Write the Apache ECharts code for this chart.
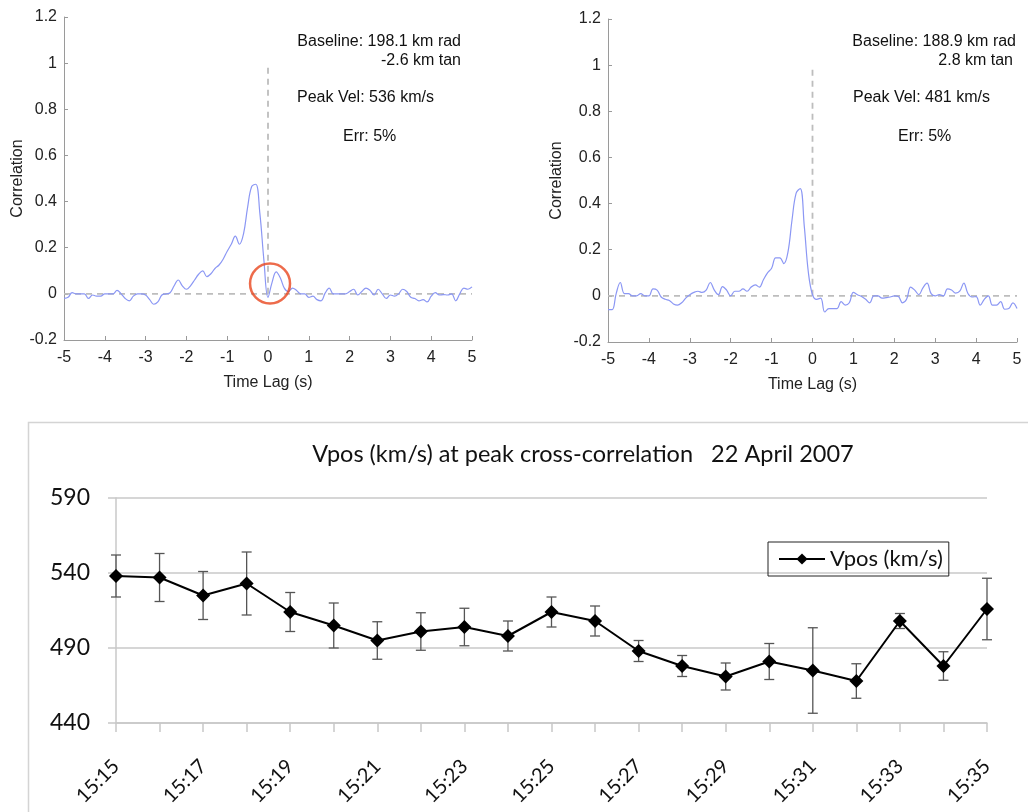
<!DOCTYPE html>
<html>
<head>
<meta charset="utf-8">
<script src="https://cdn.jsdelivr.net/npm/echarts@6/dist/echarts.min.js"></script>
<style>
  html, body { margin: 0; padding: 0; background: #fff; }
  #chart { width: 1028px; height: 812px; }
</style>
</head>
<body>
<div id="chart"></div>
<script>
// lag axis (s), 0.1 s steps from -5 to 5
const lags = [];
for (let i = -50; i <= 50; i++) lags.push(i / 10);

// cross-correlation, left panel
const corrLeft = [
  -0.02, -0.015, 0.005, 0, 0, 0, -0.02, -0.005, -0.01, -0.01,
  0, 0, 0, 0.015, 0, -0.02, -0.03, -0.01, 0, 0,
  -0.005, -0.025, -0.045, -0.035, -0.005, 0, 0.005, 0.035, 0.06, 0.035,
  0.02, 0.035, 0.06, 0.085, 0.1, 0.075, 0.087, 0.11, 0.125, 0.15,
  0.185, 0.215, 0.25, 0.215, 0.26, 0.375, 0.465, 0.475, 0.35, 0.145,
  -0.015, 0.05, 0.095, 0.07, 0.025, 0.01, 0.025, 0.015, 0, 0,
  -0.015, -0.01, -0.025, -0.03, 0.003, 0.025, 0, 0, 0, 0,
  0.01, 0.02, -0.005, 0.01, 0.025, 0.015, -0.005, 0.02, 0, -0.02,
  -0.005, -0.01, 0, 0.02, 0.01, -0.015, -0.02, -0.03, -0.025, -0.035,
  -0.01, 0.005, -0.005, -0.003, -0.005, 0, -0.03, 0, 0.025, 0.02,
  0.03
];

// cross-correlation, right panel
const corrRight = [
  -0.06, -0.06, 0.01, 0.058, 0.01, 0.01, 0, 0, 0.01, 0,
  0, 0.03, 0.025, -0.005, -0.015, -0.02, -0.035, -0.04, -0.03, -0.01,
  0.005, 0.015, 0.02, 0.015, 0.025, 0.058, 0.025, 0.005, 0.04, 0.025,
  0, 0.02, 0.02, 0.03, 0.02, 0.038, 0.048, 0.038, 0.07, 0.1,
  0.12, 0.165, 0.165, 0.14, 0.19, 0.33, 0.445, 0.465, 0.3, 0.1,
  0.005, -0.015, -0.01, -0.07, -0.055, -0.055, -0.055, -0.025, -0.04, -0.03,
  0.015, 0.005, -0.003, -0.015, -0.03, 0, 0, -0.01, -0.008, -0.005,
  0, -0.003, -0.03, -0.015, 0.038, 0.025, 0.005, 0.035, 0.055, 0.01,
  0, 0.005, 0, 0.03, 0.025, 0.012, 0.02, 0.055, 0.01, -0.005,
  -0.003, -0.04, -0.015, 0, -0.04, -0.04, -0.025, -0.058, -0.055, -0.03,
  -0.055
];

// bottom panel: velocity at peak cross-correlation
const times = ['15:15', '15:16', '15:17', '15:18', '15:19', '15:20', '15:21',
  '15:22', '15:23', '15:24', '15:25', '15:26', '15:27', '15:28', '15:29',
  '15:30', '15:31', '15:32', '15:33', '15:34', '15:35'];
const vpos = [538, 537, 525, 533, 514, 505, 495, 501, 504, 498, 514,
  508, 488, 478, 471, 481, 475, 468, 508, 478, 516];
const vposErr = [14, 16, 16, 21, 13, 15, 12.5, 12.5, 12.5, 10, 10,
  10, 7, 7, 9, 12, 28.5, 11.5, 5, 9.5, 20.5];

const corrTicks = { min: -0.2, max: 1.2, interval: 0.2 };
const lagTicks = { min: -5, max: 5, interval: 1 };
const vTicks = { min: 440, max: 590, interval: 50 };

const smallFont = 'Liberation Sans, Arial, sans-serif';
const bigFont = 'Lato, Open Sans, sans-serif';
const curveColor = '#8b97f4';
const refColor = '#bdbdbd';

const pair = (xs, ys) => xs.map((x, i) => [x, ys[i]]);

function lagAxis(gridIndex) {
  return {
    type: 'value', gridIndex: gridIndex,
    min: lagTicks.min, max: lagTicks.max, interval: lagTicks.interval,
    name: 'Time Lag (s)', nameLocation: 'middle', nameGap: 35,
    nameTextStyle: { fontFamily: smallFont, fontSize: 16, color: '#222' },
    axisLine: { onZero: false, lineStyle: { color: '#9a9a9a' } },
    axisTick: { inside: true, length: 4, lineStyle: { color: '#9a9a9a' } },
    axisLabel: { fontFamily: smallFont, fontSize: 16, color: '#222', margin: 10 },
    splitLine: { show: false }
  };
}

function corrAxis(gridIndex, gap) {
  return {
    type: 'value', gridIndex: gridIndex,
    min: corrTicks.min, max: corrTicks.max, interval: corrTicks.interval,
    name: 'Correlation', nameLocation: 'middle', nameGap: gap,
    nameTextStyle: { fontFamily: smallFont, fontSize: 16, color: '#222' },
    axisLine: { show: true, onZero: false, lineStyle: { color: '#9a9a9a' } },
    axisTick: { show: true, inside: true, length: 4, lineStyle: { color: '#9a9a9a' } },
    axisLabel: { fontFamily: smallFont, fontSize: 16, color: '#222', margin: 7 },
    splitLine: { show: false }
  };
}

function refLines(idx) {
  const dashed = { color: refColor, width: 1.8, type: [6, 5] };
  return [
    { type: 'line', xAxisIndex: idx, yAxisIndex: idx, data: [[-5, 0], [5, 0]],
      symbol: 'none', lineStyle: dashed, silent: true, z: 1 },
    { type: 'line', xAxisIndex: idx, yAxisIndex: idx, data: [[0, 0], [0, 1]],
      symbol: 'none', lineStyle: dashed, silent: true, z: 1 }
  ];
}

function txt(x, y, text, align) {
  return { type: 'text', x: x, y: y,
    style: { text: text, fontFamily: smallFont, fontSize: 16, fill: '#111',
      textAlign: align || 'left', textVerticalAlign: 'middle' } };
}

function renderErr(params, api) {
  const i = api.value(0);
  const lo = api.coord([i, api.value(1)]);
  const hi = api.coord([i, api.value(2)]);
  const w = 5;
  const style = { stroke: '#555', lineWidth: 1.3 };
  return {
    type: 'group',
    children: [
      { type: 'line', shape: { x1: lo[0], y1: lo[1], x2: hi[0], y2: hi[1] }, style: style },
      { type: 'line', shape: { x1: lo[0] - w, y1: lo[1], x2: lo[0] + w, y2: lo[1] }, style: style },
      { type: 'line', shape: { x1: hi[0] - w, y1: hi[1], x2: hi[0] + w, y2: hi[1] }, style: style }
    ]
  };
}

const chart = echarts.init(document.getElementById('chart'));

const option = {
  backgroundColor: '#fff',
  animation: false,
  title: {
    text: 'Vpos (km/s) at peak cross-correlation   22 April 2007',
    left: 578, top: 437, textAlign: 'center',
    textStyle: { fontFamily: bigFont, fontSize: 23.5, fontWeight: 'normal', color: '#111' }
  },
  legend: {
    data: ['Vpos (km/s)'],
    left: 768, top: 542,
    padding: [6, 6, 6, 10],
    borderColor: '#222', borderWidth: 1,
    itemWidth: 46, itemHeight: 14, itemGap: 4,
    textStyle: { fontFamily: bigFont, fontSize: 22, color: '#111' }
  },
  grid: [
    { left: 64, top: 17, width: 408, height: 323 },
    { left: 608, top: 19, width: 409, height: 323 },
    { left: 116, top: 498, width: 871, height: 225 }
  ],
  xAxis: [
    lagAxis(0),
    lagAxis(1),
    {
      type: 'category', gridIndex: 2, data: times, boundaryGap: false,
      axisLine: { lineStyle: { color: '#c8c8c8', width: 1.5 } },
      axisTick: { show: true, interval: 0, length: 9, lineStyle: { color: '#c8c8c8', width: 1.5 } },
      axisLabel: { interval: 1, rotate: 45, margin: 40, fontFamily: bigFont, fontSize: 20, color: '#111' }
    }
  ],
  yAxis: [
    corrAxis(0, 37),
    corrAxis(1, 43),
    {
      type: 'value', gridIndex: 2,
      min: vTicks.min, max: vTicks.max, interval: vTicks.interval,
      axisLine: { show: true, lineStyle: { color: '#c8c8c8', width: 1.5 } },
      axisTick: { show: true, length: 8, lineStyle: { color: '#c8c8c8', width: 1.5 } },
      axisLabel: { fontFamily: bigFont, fontSize: 23, color: '#111', margin: 26 },
      splitLine: { lineStyle: { color: '#c8c8c8', width: 1.5 } }
    }
  ],
  graphic: [
    txt(461, 42, 'Baseline: 198.1 km rad', 'right'),
    txt(461, 61, '-2.6 km tan', 'right'),
    txt(297, 98, 'Peak Vel: 536 km/s'),
    txt(343, 137, 'Err: 5%'),
    txt(1016, 42, 'Baseline: 188.9 km rad', 'right'),
    txt(1013, 61, '2.8 km tan', 'right'),
    txt(853, 98, 'Peak Vel: 481 km/s'),
    txt(898, 137, 'Err: 5%'),
    { type: 'rect', left: 26, top: 420, z: -1,
      shape: { width: 1020, height: 420 },
      style: { fill: 'none', stroke: '#d4d4d4', lineWidth: 1.5 } }
  ],
  series: [
    ...refLines(0),
    ...refLines(1),
    { type: 'line', xAxisIndex: 0, yAxisIndex: 0, data: pair(lags, corrLeft),
      symbol: 'none', smooth: 0.4, lineStyle: { color: curveColor, width: 1.2 }, z: 3 },
    { type: 'line', xAxisIndex: 1, yAxisIndex: 1, data: pair(lags, corrRight),
      symbol: 'none', smooth: 0.4, lineStyle: { color: curveColor, width: 1.2 }, z: 3 },
    // red circle around the secondary dip near zero lag
    { type: 'scatter', xAxisIndex: 0, yAxisIndex: 0, data: [[0.05, 0.045]],
      symbol: 'circle', symbolSize: 40, silent: true, z: 4,
      itemStyle: { color: 'rgba(0,0,0,0)', borderColor: '#e8461e', borderWidth: 2.5 } },
    { type: 'custom', name: 'err', xAxisIndex: 2, yAxisIndex: 2,
      renderItem: renderErr, encode: { x: 0, y: [1, 2] }, z: 2,
      data: times.map((t, i) => [i, vpos[i] - vposErr[i], vpos[i] + vposErr[i]]) },
    { type: 'line', name: 'Vpos (km/s)', xAxisIndex: 2, yAxisIndex: 2, data: vpos,
      symbol: 'diamond', symbolSize: 14, z: 3,
      lineStyle: { color: '#000', width: 2 }, itemStyle: { color: '#000' } }
  ]
};

chart.setOption(option);
</script>
</body>
</html>
